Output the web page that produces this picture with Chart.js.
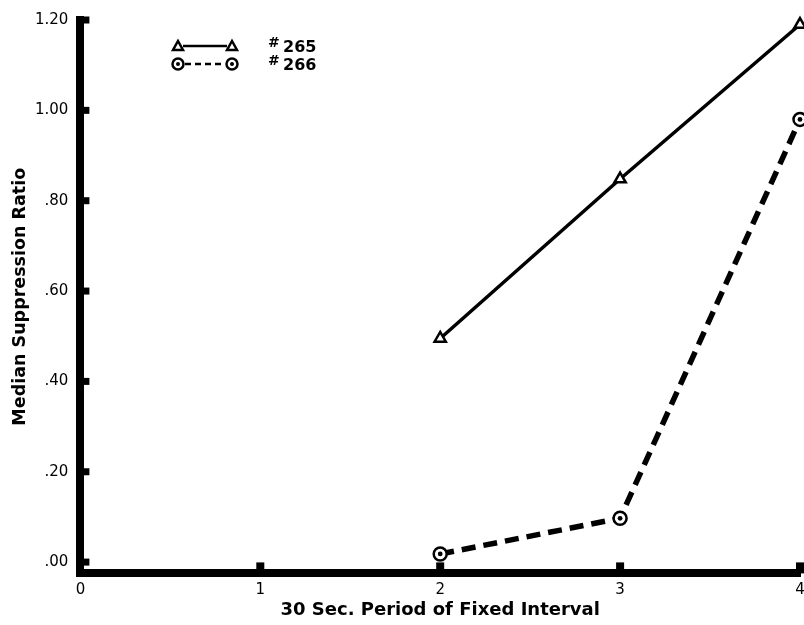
<!DOCTYPE html>
<html>
<head>
<meta charset="utf-8">
<script src="https://cdn.jsdelivr.net/npm/chart.js@4.4.0/dist/chart.umd.min.js"></script>
<style>
  html, body { margin: 0; padding: 0; background: #fff; }
  #wrap { width: 804px; height: 625px; }
</style>
</head>
<body>
<div id="wrap"><canvas id="chart" width="804" height="625"></canvas></div>
<script>
// data
var periods = [2, 3, 4];
var rat265 = [0.495, 0.848, 1.19];
var rat266 = [0.018, 0.097, 0.98];
var xTicks = [0, 1, 2, 3, 4];
var yTicks = [0, 0.2, 0.4, 0.6, 0.8, 1.0, 1.2];
var yTickLabels = ['.00', '.20', '.40', '.60', '.80', '1.00', '1.20'];
var seriesNames = ['#265', '#266'];

var FONT = '"DejaVu Sans", "Liberation Sans", Arial, sans-serif';

function toPoints(xs, ys) {
	var pts = [];
	for (var i in xs) {
		pts.push({x: xs[i], y: ys[i]});
	}
	return pts;
}

// tick stubs inside the axes, centre dots of the circles, legend
var extras = {
	id: 'extras',
	afterDatasetsDraw: function(chart) {
		var ctx = chart.ctx;
		var xs = chart.scales.x, ys = chart.scales.y;
		var area = chart.chartArea;
		ctx.save();
		ctx.fillStyle = '#000';
		// y stubs
		for (var i = 0; i < yTicks.length; i++) {
			var py = ys.getPixelForValue(yTicks[i]);
			ctx.fillRect(area.left, py - 3.5, 9, 7);
		}
		// x stubs
		for (var j = 1; j < xTicks.length; j++) {
			var px = xs.getPixelForValue(xTicks[j]);
			ctx.fillRect(px - 4, area.bottom - 11, 8, 11);
		}
		// centre dots for #266
		var meta = chart.getDatasetMeta(1);
		meta.data.forEach(function(pt) {
			ctx.beginPath();
			ctx.arc(pt.x, pt.y, 2.4, 0, Math.PI * 2);
			ctx.fill();
		});

		// legend
		var lx1 = 178, lx2 = 232, rows = [46, 64];
		ctx.strokeStyle = '#000';
		// row 1: triangle - solid - triangle
		ctx.lineWidth = 2.5;
		ctx.setLineDash([]);
		ctx.beginPath();
		ctx.moveTo(lx1 + 5, rows[0]);
		ctx.lineTo(lx2 - 5, rows[0]);
		ctx.stroke();
		[lx1, lx2].forEach(function(cx) {
			ctx.beginPath();
			ctx.moveTo(cx, rows[0] - 5);
			ctx.lineTo(cx + 5, rows[0] + 4);
			ctx.lineTo(cx - 5, rows[0] + 4);
			ctx.closePath();
			ctx.fillStyle = '#fff';
			ctx.fill();
			ctx.stroke();
		});
		// row 2: circle - dashed - circle
		ctx.lineWidth = 2.5;
		ctx.setLineDash([6, 4]);
		ctx.beginPath();
		ctx.moveTo(lx1 + 7, rows[1]);
		ctx.lineTo(lx2 - 7, rows[1]);
		ctx.stroke();
		ctx.setLineDash([]);
		ctx.lineWidth = 2.5;
		[lx1, lx2].forEach(function(cx) {
			ctx.beginPath();
			ctx.arc(cx, rows[1], 5.5, 0, Math.PI * 2);
			ctx.fillStyle = '#fff';
			ctx.fill();
			ctx.stroke();
			ctx.beginPath();
			ctx.arc(cx, rows[1], 2, 0, Math.PI * 2);
			ctx.fillStyle = '#000';
			ctx.fill();
		});
		// legend texts, "#" raised
		ctx.fillStyle = '#000';
		ctx.textBaseline = 'alphabetic';
		for (var k = 0; k < seriesNames.length; k++) {
			var base = rows[k] + 6;
			ctx.font = 'bold 14px ' + FONT;
			ctx.fillText(seriesNames[k].charAt(0), 268, base - 5);
			ctx.font = 'bold 16px ' + FONT;
			ctx.fillText(seriesNames[k].substring(1), 283, base);
		}
		ctx.restore();
	}
};

var chartdata = {
	datasets: [
		{
			label: seriesNames[0],
			data: toPoints(periods, rat265),
			borderColor: '#000',
			borderWidth: 3.5,
			pointStyle: 'triangle',
			pointRadius: 6.5,
			pointBorderWidth: 2.5,
			pointBackgroundColor: '#fff',
			pointBorderColor: '#000',
			fill: false,
			clip: false
		},
		{
			label: seriesNames[1],
			data: toPoints(periods, rat266),
			borderColor: '#000',
			borderWidth: 5.5,
			borderDash: [14, 8],
			pointStyle: 'circle',
			pointRadius: 6.5,
			pointBorderWidth: 2.5,
			pointBackgroundColor: '#fff',
			pointBorderColor: '#000',
			fill: false,
			clip: false
		}
	]
};

var ctx = document.getElementById('chart');
var lineGraph = new Chart(ctx, {
	type: 'line',
	data: chartdata,
	plugins: [extras],
	options: {
		responsive: false,
		animation: false,
		layout: { autoPadding: false, padding: { left: 4, right: 0, top: 20, bottom: 4 } },
		plugins: { legend: { display: false }, tooltip: { enabled: false } },
		scales: {
			x: {
				type: 'linear',
				min: 0,
				max: 4,
				afterBuildTicks: function(scale) {
					scale.ticks = xTicks.map(function(v) { return {value: v}; });
				},
				afterFit: function(scale) {
					scale.paddingRight = 4;
				},
				border: { color: '#000', width: 8 },
				grid: { display: false },
				ticks: {
					color: '#000',
					font: { family: FONT, size: 15 },
					padding: 0,
					maxRotation: 0
				},
				title: {
					display: true,
					text: '30 Sec. Period of Fixed Interval',
					color: '#000',
					font: { family: FONT, size: 18, weight: 'bold' },
					padding: { top: 0, bottom: 0 }
				}
			},
			y: {
				min: -0.025,
				max: 1.2,
				afterBuildTicks: function(scale) {
					scale.ticks = yTicks.map(function(v) { return {value: v}; });
				},
				border: { color: '#000', width: 8 },
				grid: { display: false },
				ticks: {
					color: '#000',
					font: { family: FONT, size: 15 },
					padding: 4,
					callback: function(value) {
						var idx = yTicks.indexOf(value);
						return idx >= 0 ? yTickLabels[idx] : '';
					}
				},
				title: {
					display: true,
					text: 'Median Suppression Ratio',
					color: '#000',
					font: { family: FONT, size: 17.5, weight: 'bold' },
					padding: { top: 6, bottom: 0 }
				}
			}
		}
	}
});
</script>
</body>
</html>
